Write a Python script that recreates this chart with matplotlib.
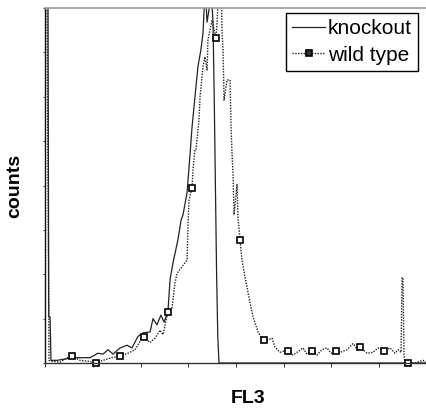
import numpy as np
import matplotlib
matplotlib.use("Agg")
import matplotlib.pyplot as plt

plt.rcParams["font.family"] = ["Liberation Sans", "DejaVu Sans"]

# FL3 histograms (channel, counts); values above 400 run off the top of the plot
knockout_ch = [0, 2.0, 2.5, 3.4, 4.0, 8.0, 18.8, 30.2, 35.5, 38.9, 42.2, 45.6, 50.3,
               55.0, 58.3, 62.3, 65.7, 70.4, 72.4, 75.0, 77.7, 79.8, 82.4, 83.8,
               85.8, 89.1, 91.2, 92.5, 95.2, 97.2, 98.5, 100.5, 102.5, 104.5, 105.9,
               106.5, 107.2, 108.6, 109.9, 111.2, 112.6, 113.4, 114.2, 115.0, 115.8,
               116.6, 150.0, 200.0, 240.0, 256.0]
knockout_counts = [430, 430, 52, 52, 3, 3, 6, 6, 11, 10, 15, 10, 17,
                   20, 17, 30, 34, 35, 50, 43, 54, 46, 58, 94,
                   113, 139, 161, 167, 192, 235, 265, 300, 334, 353, 372,
                   394, 430, 384, 398, 430, 383, 300, 200, 100, 30,
                   0, 0, 0, 0, 0]

wild_ch = [0, 1.3, 2.7, 4.7, 10.1, 14.1, 18.1, 23.5, 28.8, 34.2, 38.9, 44.9, 50.3,
           55.6, 60.3, 65.7, 70.4, 73.7, 77.1, 79.1, 82.4, 85.1, 87.1, 88.5, 92.5,
           95.2, 95.8, 96.5, 98.5, 99.2, 100.5, 101.2, 103.2, 103.9, 105.9, 107.2,
           108.6, 109.2, 111.9, 112.6, 113.9, 114.6, 115.3, 116.6, 118.0, 118.6,
           119.3, 120.0, 122.0, 124.0, 124.7, 125.3, 126.0, 126.7, 128.7, 129.3,
           130.7, 132.0, 134.0, 137.4, 139.4, 142.8, 146.1, 149.5, 152.1, 154.1,
           157.5, 160.8, 162.9, 166.2, 168.9, 172.9, 175.6, 178.9, 182.3, 185.6,
           189.0, 191.7, 195.0, 197.7, 202.4, 206.4, 209.1, 211.1, 215.8, 219.8,
           223.2, 227.2, 231.2, 234.6, 236.6, 238.6, 239.3, 239.9, 240.6, 241.3,
           243.3, 248.0, 251.3, 253.3, 256.0]
wild_counts = [430, 430, 3, 2, 1, 5, 8, 3, 2, 0, 3, 6, 8,
               11, 15, 30, 23, 28, 37, 32, 58, 62, 90, 101, 110,
               116, 153, 184, 197, 218, 240, 240, 274, 300, 334, 345,
               330, 364, 386, 381, 372, 366, 383, 430, 430, 375,
               353, 296, 319, 319, 266, 237, 214, 167, 201, 165,
               139, 116, 97, 68, 52, 35, 26, 26, 28, 18,
               12, 14, 14, 9, 12, 17, 10, 14, 9, 15,
               17, 11, 14, 12, 15, 22, 16, 18, 11, 12,
               17, 14, 17, 11, 15, 12, 96, 96, 9, 0,
               0, 0, 2, 3, 0]

# channels where the wild type curve carries a square marker
marker_ch = [18.1, 34.2, 50.3, 66.3, 82.4, 98.5, 114.6, 130.7, 146.8, 162.9,
             179.0, 195.1, 211.1, 227.2, 243.3]

fig = plt.figure(figsize=(4.27, 4.09), dpi=100)
ax = fig.add_axes([45 / 427, 46 / 409, 382 / 427, 355 / 409])

knock_line, = ax.plot(knockout_ch, knockout_counts, color="#222222", lw=0.9)
ax.plot(wild_ch, wild_counts, color="#222222", lw=1.0, ls=(0, (1, 1)))
marker_y = np.interp(marker_ch, wild_ch, wild_counts)
ax.plot(marker_ch, marker_y, ls="none", marker="s", ms=4, mfc="white",
        mec="black", mew=1.2, clip_on=False)

# legend entry for the dotted line with its marker
wt_handle, = ax.plot([], [], color="#222222", lw=1.0, ls=(0, (1, 1)),
                     marker="s", ms=4, mfc="#333333", mec="black", mew=1.2)

ax.set_xlim(0, 256)
ax.set_ylim(0, 400)
ax.set_xticks(np.arange(0, 257, 32))
ax.set_yticks(np.arange(0, 401, 50))
ax.set_xticklabels([])
ax.set_yticklabels([])
ax.tick_params(axis="x", direction="out", length=3, width=0.8, colors="#444444")
ax.tick_params(axis="y", direction="out", length=1.5, width=0.8, colors="#444444")

ax.spines["right"].set_visible(False)
ax.spines["top"].set_color("#999999")
ax.spines["top"].set_linewidth(1.2)
ax.spines["left"].set_color("#111111")
ax.spines["bottom"].set_color("#333333")
for s in ["left", "bottom"]:
    ax.spines[s].set_linewidth(1.0)

ax.set_ylabel("counts", fontsize=14, fontweight="bold")
ax.yaxis.set_label_coords(-0.057, 0.5)
ax.set_xlabel("FL3", fontsize=14, fontweight="bold")
ax.xaxis.set_label_coords((248 - 45) / 382, -0.075)

leg = ax.legend([knock_line, wt_handle], ["knockout", "wild type"],
                loc="upper right", bbox_to_anchor=(0.976, 0.986),
                borderaxespad=0, fontsize=15, numpoints=1, handlelength=1.6,
                handletextpad=0.1, borderpad=0.3, labelspacing=0.35,
                fancybox=False, framealpha=1)
leg.get_frame().set_edgecolor("black")
leg.get_frame().set_linewidth(1.0)

fig.savefig("out.png", dpi=100)
